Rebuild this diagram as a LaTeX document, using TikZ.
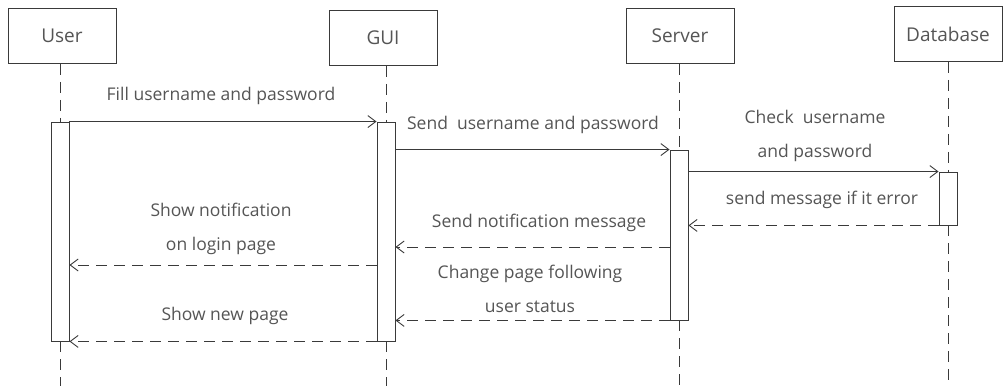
\documentclass[tikz,border=0pt]{standalone}
\usepackage{fontspec}
\setmainfont{Open Sans}
\usetikzlibrary{arrows.meta}
\definecolor{ink}{HTML}{3A3A3A}
\definecolor{txt}{HTML}{555555}
\tikzset{
  actor/.style={draw=ink, line width=0.9pt, minimum width=108pt, minimum height=55pt, inner sep=0pt, text=txt, font=\fontsize{19}{22}\selectfont},
  actbar/.style={draw=ink, fill=white, line width=0.9pt, minimum width=18pt, inner sep=0pt},
  life/.style={draw=ink, line width=0.9pt, dash pattern=on 11pt off 7pt},
  msg/.style={draw=ink, line width=0.9pt, -{Straight Barb[length=8pt, width=12pt, line width=0.9pt]}},
  reply/.style={msg, dash pattern=on 11pt off 7pt},
  lbl/.style={text=txt, font=\fontsize{17.5}{34}\selectfont, align=center, inner sep=0pt}
}
\begin{document}
\begin{tikzpicture}[x=1pt, y=-1pt]
\useasboundingbox (0,0) rectangle (1003,386);
% actors
\node[actor] (user) at (62,36) {User};
\node[actor] (gui) at (383,38) {GUI};
\node[actor] (server) at (680,36) {Server};
\node[actor] (db) at (948,34) {Database};
% activation bars
\node[actbar, minimum height=219pt] (ubar) at (60,231.5) {};
\node[actbar, minimum height=219pt] (gbar) at (386,231.5) {};
\node[actbar, minimum height=170pt] (sbar) at (679,235) {};
\node[actbar, minimum height=53pt] (dbar) at (948,198.5) {};
% lifeline ends
\coordinate (uend) at (60,386);
\coordinate (gend) at (386,386);
\coordinate (send) at (679,386);
\coordinate (dend) at (948,386);
% lifelines
\draw[life] (user.south -| ubar.north) -- (ubar.north);
\draw[life] (ubar.south) -- (uend);
\draw[life] (gui.south -| gbar.north) -- (gbar.north);
\draw[life] (gbar.south) -- (gend);
\draw[life] (server.south -| sbar.north) -- (sbar.north);
\draw[life] (sbar.south) -- (send);
\draw[life] (db.south) -- (dbar.north);
\draw[life] (dbar.south) -- (dend);
% messages
\coordinate (y5) at (0,247);
\coordinate (y6) at (0,265);
\draw[msg] (ubar.north east) -- (gbar.north west);
\draw[msg] (gbar.east |- sbar.north) -- (sbar.north west);
\draw[msg] (sbar.east |- dbar.north) -- (dbar.north west);
\draw[reply] (dbar.south west) -- (sbar.east |- dbar.south);
\draw[reply] (sbar.west |- y5) -- (gbar.east |- y5);
\draw[reply] (gbar.west |- y6) -- (ubar.east |- y6);
\draw[reply] (sbar.south west) -- (gbar.east |- sbar.south);
\draw[reply] (gbar.south west) -- (ubar.south east);
% labels
\node[lbl] (l1) at (221,96) {Fill username and password};
\node[lbl] (l2) at (533,125) {Send\ \ username and password};
\node[lbl] (l3) at (815,136) {Check\ \ username\\and password};
\node[lbl] (l4) at (822,200) {send message if it error};
\node[lbl] (l5) at (539,223) {Send notification message};
\node[lbl] (l6) at (221,229) {Show notification\\on login page};
\node[lbl] (l7) at (530,289) {Change page following\\user status};
\node[lbl] (l8) at (225,316) {Show new page};
\end{tikzpicture}
\end{document}
